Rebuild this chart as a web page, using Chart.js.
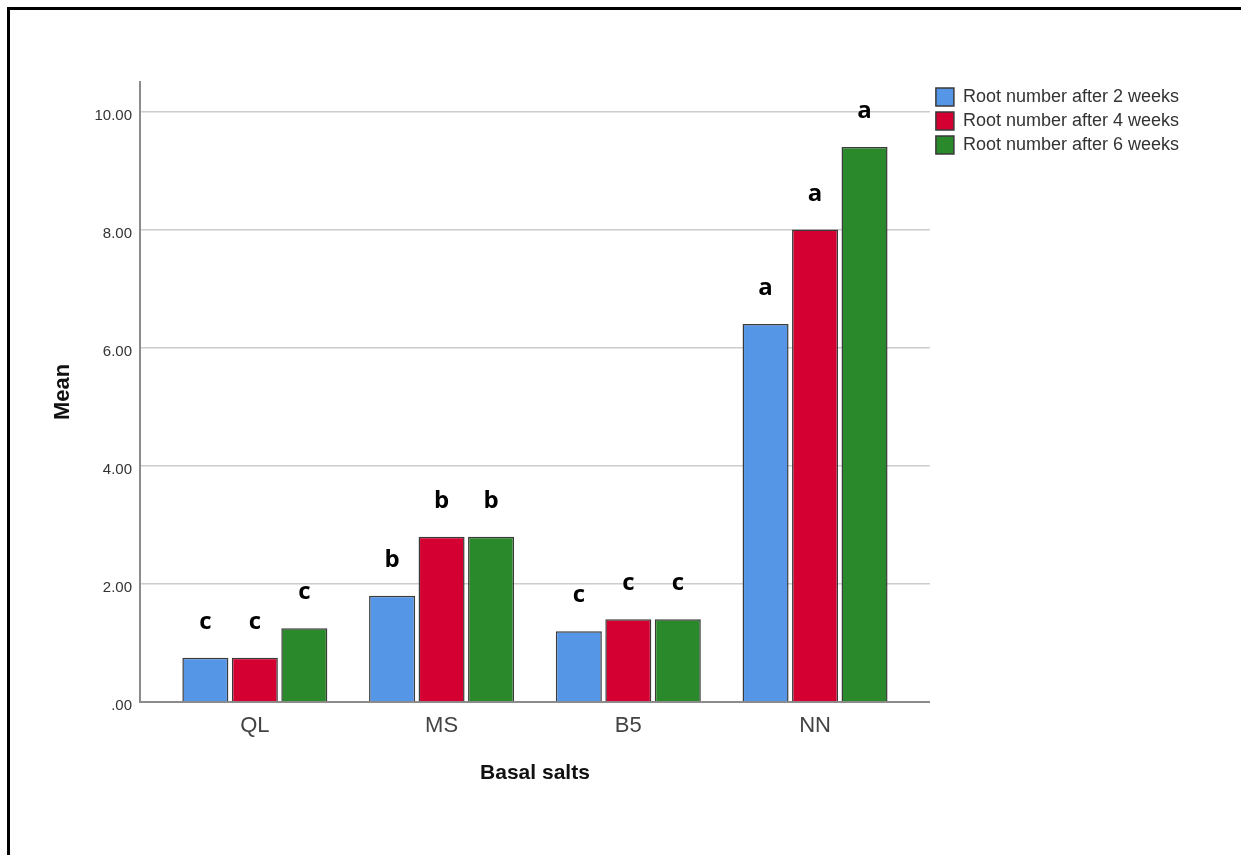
<!DOCTYPE html>
<html>
<head>
<meta charset="utf-8">
<script src="https://cdn.jsdelivr.net/npm/chart.js@4.4.1/dist/chart.umd.min.js"></script>
<style>
  html, body { margin: 0; padding: 0; background: #fff; }
  #wrap { position: relative; width: 1241px; height: 855px; overflow: hidden; }
  #frame { position: absolute; left: 7px; top: 7px; width: 1300px; height: 900px;
           border-left: 3px solid #000; border-top: 3px solid #000; }
  #chart { position: absolute; left: 0; top: 0; }
</style>
</head>
<body>
<div id="wrap">
  <div id="frame"></div>
  <canvas id="chart" width="1241" height="855"></canvas>
</div>
<script>
// Datos del gráfico
const categories = ['QL', 'MS', 'B5', 'NN'];
const seriesLabels = ['Root number after 2 weeks', 'Root number after 4 weeks', 'Root number after 6 weeks'];
const week2 = [0.75, 1.8, 1.2, 6.4];
const week4 = [0.75, 2.8, 1.4, 8.0];
const week6 = [1.25, 2.8, 1.4, 9.4];
const letters2 = ['c', 'b', 'c', 'a'];
const letters4 = ['c', 'b', 'c', 'a'];
const letters6 = ['c', 'b', 'c', 'a'];
const yTicks = [0, 2, 4, 6, 8, 10];

const colors = ['#5596e6', '#d50032', '#2a892a'];
const allLetters = [letters2, letters4, letters6];

// Letras de significancia encima de cada barra
const letterPlugin = {
    id: 'letters',
    afterDatasetsDraw(chart){
        const ctx = chart.ctx;
        ctx.save();
        ctx.font = 'bold 24px "Open Sans"';
        ctx.fillStyle = '#000';
        ctx.textAlign = 'center';
        ctx.textBaseline = 'alphabetic';
        chart.data.datasets.forEach((ds, d) => {
            chart.getDatasetMeta(d).data.forEach((bar, i) => {
                ctx.fillText(allLetters[d][i], bar.x, bar.y - 29);
            });
        });
        ctx.restore();
    }
};

function toPoints(values){
    return values.map((v, i) => ({ x: i + 1, y: v }));
}

const ctx = document.getElementById('chart').getContext('2d');
new Chart(ctx, {
    type: 'bar',
    data: {
        datasets: [week2, week4, week6].map((vals, d) => ({
            label: seriesLabels[d],
            data: toPoints(vals),
            backgroundColor: colors[d],
            borderColor: '#3a3a3a',
            borderWidth: 1.5,
            categoryPercentage: 0.795,
            barPercentage: 0.93
        }))
    },
    options: {
        responsive: false,
        animation: false,
        layout: { padding: { top: 82, left: 0, right: 52, bottom: 0 } },
        plugins: {
            tooltip: { enabled: false },
            legend: {
                position: 'right',
                align: 'start',
                labels: {
                    boxWidth: 18,
                    boxHeight: 18,
                    padding: 6,
                    color: '#333',
                    font: { family: '"Liberation Sans", Arial', size: 18 }
                }
            }
        },
        scales: {
            x: {
                type: 'linear',
                offset: false,
                min: 0.385,
                max: 4.615,
                afterFit(scale){ scale.height = 153; },
                grid: { display: false, drawTicks: false },
                border: { display: true, color: '#8c8c8c', width: 2 },
                ticks: {
                    stepSize: 1,
                    includeBounds: false,
                    padding: 11,
                    color: '#444',
                    font: { family: '"Liberation Sans", Arial', size: 22 },
                    callback: v => categories[v - 1] || ''
                },
                title: {
                    display: true,
                    text: 'Basal salts',
                    color: '#111',
                    font: { family: '"Liberation Sans", Arial', size: 21, weight: 'bold' },
                    padding: { bottom: 69 }
                }
            },
            y: {
                min: 0,
                max: 10.5,
                afterFit(scale){ scale.width = 140; },
                afterBuildTicks(scale){ scale.ticks = yTicks.map(v => ({ value: v })); },
                grid: {
                    drawTicks: false,
                    color: ctx => ctx.tick && ctx.tick.value === 0 ? 'rgba(0,0,0,0)' : '#cccccc',
                    lineWidth: 1.5
                },
                border: { display: true, color: '#8c8c8c', width: 2 },
                ticks: {
                    padding: 8,
                    labelOffset: 4,
                    color: '#333',
                    font: { family: '"Liberation Sans", Arial', size: 15 },
                    callback: v => v === 0 ? '.00' : v.toFixed(2)
                },
                title: {
                    display: true,
                    text: 'Mean',
                    color: '#111',
                    font: { family: '"Liberation Sans", Arial', size: 22, weight: 'bold' },
                    padding: { top: 50 }
                }
            }
        }
    },
    plugins: [letterPlugin]
});
</script>
</body>
</html>
